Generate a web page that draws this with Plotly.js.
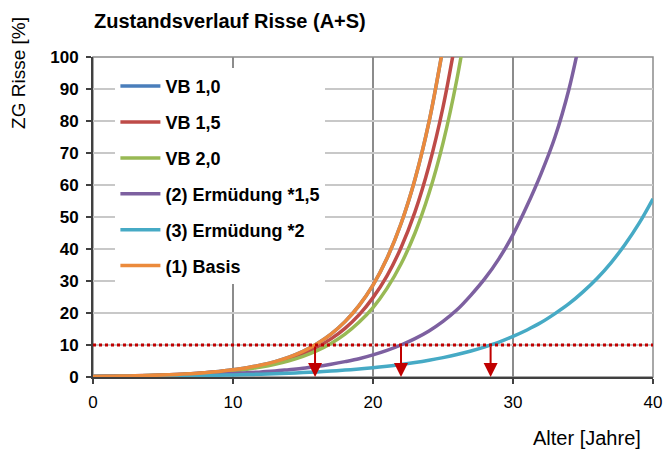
<!DOCTYPE html>
<html>
<head>
<meta charset="utf-8">
<script src="https://cdn.plot.ly/plotly-3.0.1.min.js"></script>
<style>html,body{margin:0;padding:0;background:#fff;}#chart{width:664px;height:452px;}</style>
</head>
<body>
<div id="chart"></div>
<script>
// Alter [Jahre]
const ages = [0,1,2,3,4,5,6,7,8,9,10,11,12,13,14,15,16,17,18,19,20,21,22,23,24,25,26,27,28,29,30,31,32,33,34,35,36,37,38,39,40];

// ZG Risse [%] per series
const vb10 = [0.175,0.226,0.292,0.377,0.486,0.63,0.81,1.05,1.35,1.74,2.25,2.9,3.74,4.82,6.2,8.0,10.4,13.4,17.3,22.3,28.7,37.1,47.9,61.8,79.7,103];
const vb15 = [0.184,0.236,0.301,0.384,0.491,0.627,0.80,1.02,1.31,1.67,2.14,2.73,3.49,4.46,5.69,7.27,9.29,11.9,15.2,19.4,24.8,31.6,40.4,51.6,66.0,84.3,107.7];
const vb20 = [0.17,0.216,0.276,0.352,0.448,0.571,0.728,0.928,1.18,1.51,1.92,2.45,3.12,3.98,5.07,6.46,8.24,10.5,13.4,17.1,21.7,27.7,35.3,45.0,57.4,73.1,93.2,118.8];
const ermuedung15 = [0.17,0.2,0.25,0.3,0.36,0.43,0.52,0.63,0.75,0.91,1.1,1.3,1.6,1.9,2.3,2.7,3.3,4.0,4.8,5.7,6.9,8.3,10,12,14.4,17.4,21,25.6,30.8,37,44.5,53.5,63.5,75,90,110];
const ermuedung2 = [0.15,0.173,0.201,0.233,0.27,0.314,0.364,0.422,0.489,0.567,0.657,0.762,0.883,1.02,1.19,1.38,1.6,1.85,2.15,2.49,2.89,3.35,3.88,4.5,5.22,6.05,7.01,8.13,9.43,10.9,12.7,14.7,17.0,19.8,22.9,26.6,30.8,35.7,41.4,48.0,55.7];
const basis = [0.175,0.226,0.292,0.377,0.486,0.63,0.81,1.05,1.35,1.74,2.25,2.9,3.74,4.82,6.2,8.0,10.4,13.4,17.3,22.3,28.7,37.1,47.9,61.8,79.7,103];

const seriesNames = ['VB 1,0','VB 1,5','VB 2,0','(2) Ermüdung *1,5','(3) Ermüdung *2','(1) Basis'];
const seriesValues = [vb10, vb15, vb20, ermuedung15, ermuedung2, basis];
const seriesColors = ['#4A7EBB','#BE4B48','#98B954','#7D60A0','#46AAC5','#EB8A3C'];

// threshold and the ages where the curves reach it
const threshold = 10;
const arrowAges = [15.86, 22.0, 28.4];

const xTicks = [0,10,20,30,40];
const yTicks = [0,10,20,30,40,50,60,70,80,90,100];

const FONT = 'Liberation Sans, Arial, sans-serif';

const traces = seriesValues.map((vals, i) => ({
  type: 'scatter',
  mode: 'lines',
  name: seriesNames[i],
  legendgroup: 'g' + i,
  x: ages.slice(0, vals.length),
  y: vals,
  line: {color: seriesColors[i], width: 3.5, shape: 'spline', smoothing: 1},
  hoverinfo: 'skip'
}));

const annotations = arrowAges.map(a => ({
  x: a, y: 0, xref: 'x', yref: 'y',
  ax: a, ay: threshold, axref: 'x', ayref: 'y',
  text: '', showarrow: true, arrowhead: 2, arrowsize: 1.4, arrowwidth: 2,
  arrowcolor: '#C00000', standoff: 0, startstandoff: 0
}));

annotations.push({
  xref: 'paper', yref: 'paper', x: -0.134, y: 0.95,
  text: 'ZG Risse [%]', showarrow: false, textangle: -90,
  xanchor: 'center', yanchor: 'middle',
  font: {family: FONT, size: 19, color: '#000'}
});
annotations.push({
  xref: 'paper', yref: 'paper', x: 0.882, y: -0.19,
  text: 'Alter [Jahre]', showarrow: false,
  xanchor: 'center', yanchor: 'middle',
  font: {family: FONT, size: 20, color: '#000'}
});

const layout = {
  width: 664, height: 452,
  margin: {l: 93, r: 11, t: 57, b: 75},
  paper_bgcolor: '#fff', plot_bgcolor: '#fff',
  title: {
    text: 'Zustandsverlauf Risse (A+S)',
    xref: 'container', yref: 'container',
    x: 94/664, xanchor: 'left', y: 1 - 21/452, yanchor: 'middle',
    font: {family: FONT, size: 20, weight: 'bold', color: '#000'}
  },
  xaxis: {
    range: [0, 40], tickvals: xTicks, ticktext: xTicks.map(String),
    showgrid: true, gridcolor: '#8C8C8C', gridwidth: 1.2,
    zeroline: false, showline: true, linecolor: '#404040', linewidth: 2,
    ticks: 'outside', ticklen: 5, tickcolor: '#404040', tickwidth: 1.5,
    ticklabelstandoff: 4,
    tickfont: {family: FONT, size: 17, color: '#000'},
    fixedrange: true
  },
  yaxis: {
    range: [0, 100], tickvals: yTicks, ticktext: yTicks.map(String),
    showgrid: true, gridcolor: '#C8C8C8', gridwidth: 2,
    zeroline: false, showline: true, linecolor: '#404040', linewidth: 2,
    ticks: 'outside', ticklen: 5, tickcolor: '#404040', tickwidth: 1.5,
    ticklabelstandoff: 4,
    tickfont: {family: FONT, size: 17, weight: 'bold', color: '#000'},
    fixedrange: true
  },
  shapes: [
    {type: 'rect', xref: 'paper', yref: 'paper', x0: 0, x1: 1, y0: 0, y1: 1,
     line: {color: '#8C8C8C', width: 1.5}, layer: 'below'},
    {type: 'line', xref: 'x', yref: 'y', x0: 0, x1: 40, y0: threshold, y1: threshold,
     line: {color: '#C00000', width: 3, dash: 'dot'}, layer: 'above'}
  ],
  legend: {
    x: 0.04, y: 0.966, xanchor: 'left', yanchor: 'top',
    bgcolor: '#fff', borderwidth: 0,
    itemwidth: 40, tracegroupgap: 9.5, traceorder: 'grouped',
    font: {family: FONT, size: 18, weight: 'bold', color: '#000'}
  },
  showlegend: true,
  annotations: annotations
};

Plotly.newPlot('chart', traces, layout, {displayModeBar: false, staticPlot: true});
</script>
</body>
</html>
